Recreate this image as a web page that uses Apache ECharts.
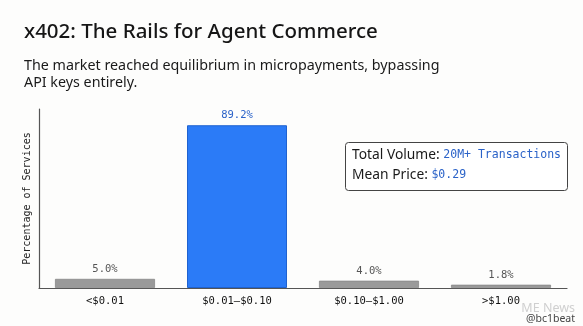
<!DOCTYPE html>
<html><head><meta charset="utf-8">
<script src="https://cdn.jsdelivr.net/npm/echarts@6/dist/echarts.min.js"></script>
<style>html,body{margin:0;padding:0;background:#fdfdfc;}#c{width:583px;height:326px;}</style>
</head><body><div id="c"></div>
<script>
const categories = ['<$0.01', '$0.01–$0.10', '$0.10–$1.00', '>$1.00'];
const shares = [5.0, 89.2, 4.0, 1.8];
const highlightIndex = 1;
const titleText = 'x402: The Rails for Agent Commerce';
const subtitleText = 'The market reached equilibrium in micropayments, bypassing\nAPI keys entirely.';
const yAxisName = 'Percentage of Services';

const mono = '"DejaVu Sans Mono", "Liberation Mono", monospace';
const sans = '"Noto Sans", "Open Sans", sans-serif';
const chart = echarts.init(document.getElementById('c'));
chart.setOption({
  backgroundColor: '#fdfdfc',
  animation: false,
  title: [{
    text: titleText, left: 19, top: 17,
    textStyle: { fontFamily: sans, fontSize: 20.5, fontWeight: 500, color: '#161616' }
  }, {
    text: subtitleText, left: 19, top: 52,
    textStyle: { fontFamily: sans, fontSize: 14.3, fontWeight: 'normal', color: '#1a1a1a', lineHeight: 17 }
  }],
  grid: { left: 39, right: 16, top: 109, bottom: 38 },
  xAxis: {
    type: 'category', data: categories,
    axisLine: { lineStyle: { color: '#555', width: 1.2 } },
    axisTick: { show: false },
    axisLabel: { fontFamily: mono, fontSize: 10.5, color: '#111', margin: 8 }
  },
  yAxis: {
    type: 'value', min: 0, max: 98.1,
    name: yAxisName, nameLocation: 'middle', nameGap: 7, nameRotate: 90,
    nameTextStyle: { fontFamily: mono, fontSize: 10, color: '#222' },
    axisLine: { show: true, lineStyle: { color: '#555', width: 1.2 } },
    axisTick: { show: false }, axisLabel: { show: false }, splitLine: { show: false }
  },
  series: [{
    type: 'bar', barWidth: 100,
    data: shares.map((v, i) => ({
      value: v,
      itemStyle: i === highlightIndex
        ? { color: '#2b7bf7', borderColor: '#1f62d0', borderWidth: 1 }
        : { color: '#9a9a9a', borderColor: '#888', borderWidth: 0.8 },
      label: { color: i === highlightIndex ? '#2a62c8' : '#555' }
    })),
    label: {
      show: true, position: 'top', distance: 4,
      fontFamily: mono, fontSize: 10.5,
      formatter: p => p.value.toFixed(1) + '%'
    }
  }],
  graphic: [{
    type: 'rect', left: 345, top: 142,
    shape: { width: 222, height: 48, r: 3 },
    style: { fill: '#fff', stroke: '#444', lineWidth: 1 }
  }, {
    type: 'text', left: 352, top: 148,
    style: {
      text: '{a|Total Volume: }{b|20M+ Transactions}\n{a|Mean Price: }{b|$0.29}',
      rich: {
        a: { fontFamily: sans, fontSize: 13.8, fill: '#1a1a1a', lineHeight: 20 },
        b: { fontFamily: mono, fontSize: 11.5, fill: '#2a62c8', lineHeight: 20 }
      }
    }
  }, {
    type: 'text', right: 8, top: 302,
    style: { text: 'ME News', fontFamily: sans, fontSize: 12.5, fill: '#cfcfcf' }
  }, {
    type: 'text', right: 8, top: 314,
    style: { text: '@bc1beat', fontFamily: sans, fontSize: 10.5, fill: '#444' }
  }]
});
</script></body></html>
